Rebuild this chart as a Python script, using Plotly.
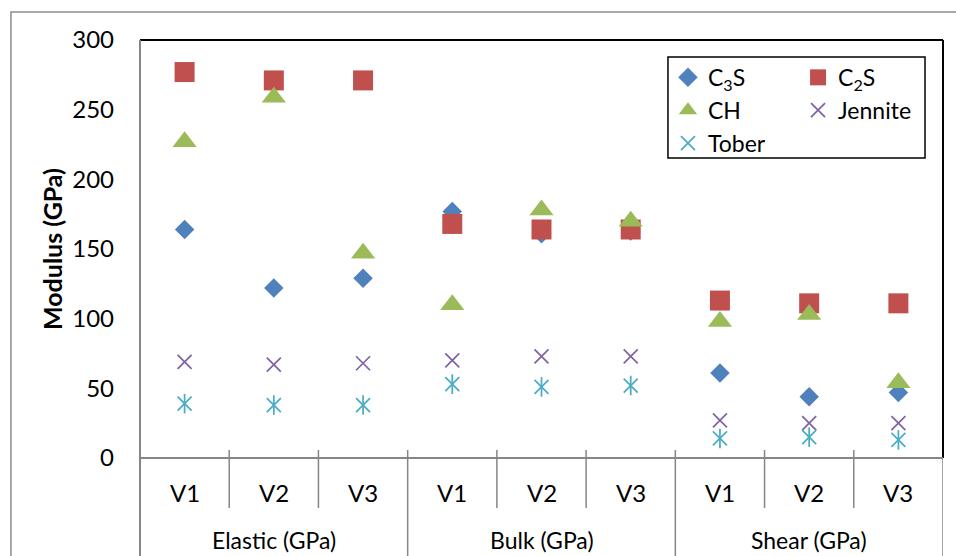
import plotly.graph_objects as go

# Category structure of the x axis
groups = ["Elastic (GPa)", "Bulk (GPa)", "Shear (GPa)"]
versions = ["V1", "V2", "V3"]

# Modulus values (GPa) for each phase, ordered Elastic V1..V3, Bulk V1..V3, Shear V1..V3
c3s = [164, 122, 129, 177, 161, 163, 61, 44, 47]
c2s = [277, 271, 271, 168, 164, 164, 113, 111, 111]
ch = [227, 259, 147, 110, 178, 170, 98, 103, 54]
jennite = [69, 67, 68, 70, 73, 73, 27, 25, 25]
tober = [39, 38, 38, 53, 51, 52, 14, 15, 13]

y_ticks = [0, 50, 100, 150, 200, 250, 300]

FONT = "Lato"
FS = 24
GRAY = "#868686"

n_cat = len(groups) * len(versions)
xpos = list(range(n_cat))
sub_labels = [v for _ in groups for v in versions]

fig = go.Figure()

fig.add_trace(go.Scatter(
    x=xpos, y=c3s, mode="markers", name="C<sub>3</sub>S", legend="legend",
    marker=dict(symbol="diamond", size=15, color="#4F81BD", line=dict(width=0))))
fig.add_trace(go.Scatter(
    x=xpos, y=c2s, mode="markers", name="C<sub>2</sub>S", legend="legend2",
    marker=dict(symbol="square", size=20, color="#C0504D", line=dict(width=0))))
fig.add_trace(go.Scatter(
    x=xpos, y=ch, mode="markers", name="CH", legend="legend",
    marker=dict(symbol="triangle-up", size=21, color="#9BBB59", line=dict(width=0))))
fig.add_trace(go.Scatter(
    x=xpos, y=jennite, mode="markers", name="Jennite", legend="legend2",
    marker=dict(symbol="x-thin-open", size=14, color="#8064A2",
                line=dict(width=1.75, color="#8064A2"))))
# Tober star: an "x" plus a vertical stroke
fig.add_trace(go.Scatter(
    x=xpos, y=tober, mode="markers", name="Tober", legend="legend",
    marker=dict(symbol="x-thin-open", size=14, color="#4BACC6",
                line=dict(width=1.75, color="#4BACC6"))))
fig.add_trace(go.Scatter(
    x=xpos, y=tober, mode="markers", name="Tober", showlegend=False,
    marker=dict(symbol="line-ns-open", size=14, color="#4BACC6",
                line=dict(width=1.75, color="#4BACC6"))))

shapes = []
# outer chart frame
shapes.append(dict(type="rect", xref="paper", yref="paper",
                   x0=-0.1607, x1=1.05, y0=-0.3, y1=1.067,
                   line=dict(color="#8C8C8C", width=1.5), layer="below"))
# plot-area border: top and right black, left and bottom (axes) gray
shapes.append(dict(type="line", xref="paper", yref="paper", x0=0, x1=1, y0=1, y1=1,
                   line=dict(color="black", width=2)))
shapes.append(dict(type="line", xref="paper", yref="paper", x0=1, x1=1, y0=0, y1=1,
                   line=dict(color="black", width=2)))
shapes.append(dict(type="line", xref="paper", yref="paper", x0=0, x1=0, y0=-0.3, y1=1,
                   line=dict(color=GRAY, width=2)))
shapes.append(dict(type="line", xref="paper", yref="paper", x0=0, x1=1, y0=0, y1=0,
                   line=dict(color=GRAY, width=2)))
# category dividers below the axis
for k in range(n_cat + 1):
    xb = k - 0.5
    is_group_edge = (k % len(versions) == 0)
    if k in (0, n_cat):
        y_low = -0.3
        y_high = 0.0
    else:
        y_low = -0.3 if is_group_edge else -0.1196
        y_high = 0.0191
    shapes.append(dict(type="line", xref="x", yref="paper", x0=xb, x1=xb,
                       y0=y_low, y1=y_high, line=dict(color=GRAY, width=1.5)))
# legend frame
shapes.append(dict(type="rect", xref="paper", yref="paper",
                   x0=0.6575, x1=0.9776, y0=0.7177, y1=0.9593,
                   line=dict(color="black", width=1.5), fillcolor="white", layer="below"))

annotations = []
for i, lab in enumerate(sub_labels):
    annotations.append(dict(x=xpos[i], y=-0.0837, xref="x", yref="paper",
                            text=lab, showarrow=False, yanchor="middle",
                            font=dict(family=FONT, size=FS, color="black")))
for g, name in enumerate(groups):
    center = g * len(versions) + (len(versions) - 1) / 2
    annotations.append(dict(x=center, y=-0.197, xref="x", yref="paper",
                            text=name, showarrow=False, yanchor="middle",
                            font=dict(family=FONT, size=23, color="black")))
annotations.append(dict(x=-0.1096, y=0.5, xref="paper", yref="paper",
                        text="<b>Modulus (GPa)</b>", textangle=-90, showarrow=False,
                        xanchor="center", yanchor="middle",
                        font=dict(family=FONT, size=25, color="black")))

legend_common = dict(orientation="v", bgcolor="rgba(0,0,0,0)", borderwidth=0,
                     font=dict(family=FONT, size=23, color="black"),
                     xanchor="left", yanchor="top", itemwidth=30)

fig.update_layout(
    width=956, height=556,
    margin=dict(l=140, r=13, t=40, b=98),
    paper_bgcolor="white", plot_bgcolor="white",
    font=dict(family=FONT, size=FS, color="black"),
    xaxis=dict(range=[-0.5, n_cat - 0.5], showticklabels=False, showgrid=False,
               zeroline=False, showline=False, ticks=""),
    yaxis=dict(range=[0, 300], tickvals=y_ticks, showgrid=False, zeroline=False,
               showline=False, ticks="", ticklabelstandoff=25,
               tickfont=dict(family=FONT, size=FS, color="black")),
    legend=dict(x=0.6575, y=0.962, **legend_common),
    legend2=dict(x=0.8195, y=0.962, **legend_common),
    shapes=shapes,
    annotations=annotations,
    showlegend=True,
)

fig.write_html("out.html")
